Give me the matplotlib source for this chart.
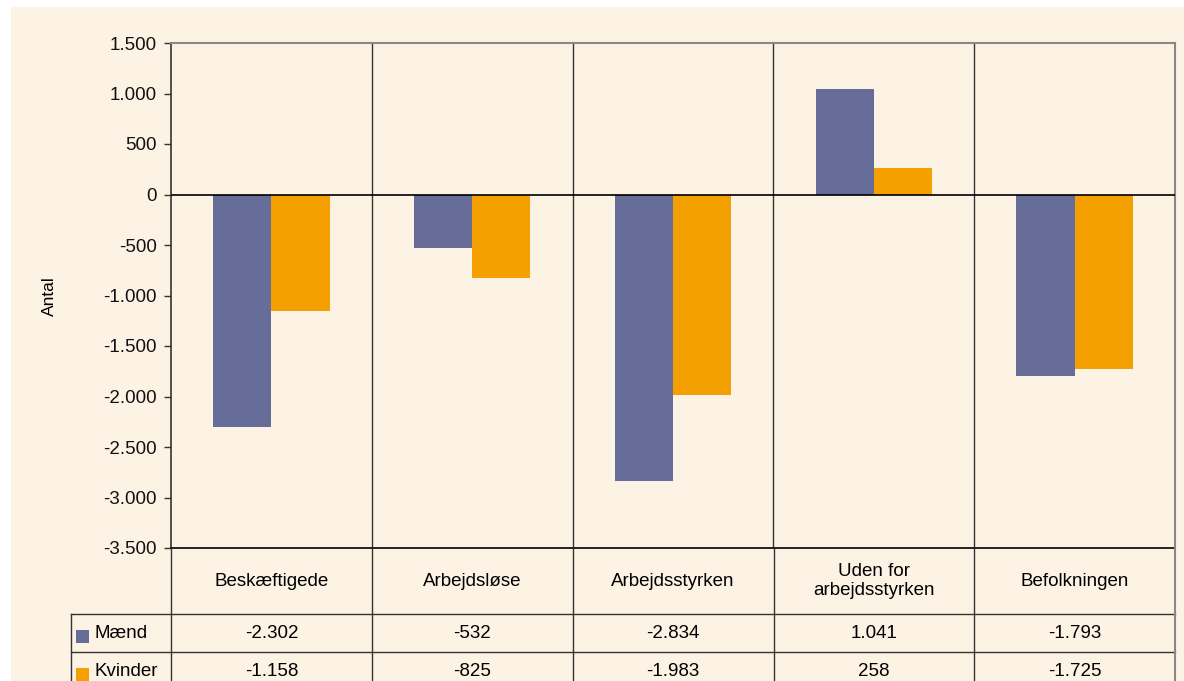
"""
Ændring i beskæftigede, ledige m.m. fordelt på køn – søjlediagram med datatabel
"""
import matplotlib
matplotlib.use("Agg")
import matplotlib.pyplot as plt
from matplotlib.patches import Rectangle

plt.rcParams["font.family"] = ["Liberation Sans", "DejaVu Sans"]

categories = ["Beskæftigede", "Arbejdsløse", "Arbejdsstyrken",
              "Uden for\narbejdsstyrken", "Befolkningen"]
series = ["Mænd", "Kvinder"]
maend = [-2302, -532, -2834, 1041, -1793]
kvinder = [-1158, -825, -1983, 258, -1725]
yticks = list(range(-3500, 1501, 500))

C_M = "#666d99"
C_K = "#f4a000"
BG = "#fdf3e5"
W, H = 1184, 681
FS = 13.5


def dk(v):
    return f"{v:,}".replace(",", ".")


def fx(px):  # pixel -> figure fraction (x)
    return px / W


def fy(py):  # pixel (from top) -> figure fraction (y)
    return 1 - py / H


fig = plt.figure(figsize=(W / 100, H / 100), dpi=100)
fig.patch.set_facecolor("white")
fig.add_artist(Rectangle((fx(11), 0), 1, fy(7), transform=fig.transFigure,
                         facecolor=BG, edgecolor="none", zorder=0))

L, R, T, B = 171, 1175, 43, 548
ax = fig.add_axes([fx(L), fy(B), fx(R - L), fy(T) - fy(B)])
ax.set_facecolor(BG)

n = len(categories)
x = list(range(n))
bw = 0.29
ax.bar([i - bw / 2 for i in x], maend, width=bw, color=C_M, zorder=2)
ax.bar([i + bw / 2 for i in x], kvinder, width=bw, color=C_K, zorder=2)

ax.set_xlim(-0.5, n - 0.5)
ax.set_ylim(yticks[0], yticks[-1])
ax.set_yticks(yticks)
ax.set_yticklabels([dk(t) for t in yticks], fontsize=FS, color="#111111")
ax.tick_params(axis="y", direction="out", length=5, width=1, color="#333333", pad=5)
ax.set_xticks([])
for i in range(1, n):
    ax.axvline(i - 0.5, color="#333333", lw=1, zorder=1)
ax.axhline(0, color="black", lw=1.2, zorder=3)

for s in ["top", "right"]:
    ax.spines[s].set_color("#888888")
    ax.spines[s].set_linewidth(1.5)
ax.spines["left"].set_color("#333333")
ax.spines["bottom"].set_color("black")
ax.spines["left"].set_linewidth(1.2)
ax.spines["bottom"].set_linewidth(1.2)

fig.text(fx(49), fy(296), "Antal", rotation=90, ha="center", va="center",
         fontsize=12.5)

# datatabel under diagrammet
TL = 71
tax = fig.add_axes([fx(TL), 0, fx(R - TL), fy(B)])
tax.set_xlim(-1.0, n - 0.5)
tax.set_ylim(H - B, 0)
tax.axis("off")

r1, r2, r3 = 614 - B, 652 - B, 690 - B
ec = "#333333"
for yy in (r1, r2):
    tax.plot([-1.0, n - 0.5], [yy, yy], color=ec, lw=1, clip_on=False)
tax.plot([-1.0, -1.0], [r1, r3], color=ec, lw=1, clip_on=False)
for i in range(n + 1):
    col = "#888888" if i == n else ec
    tax.plot([i - 0.5, i - 0.5], [0, r3], color=col,
             lw=1.5 if i == n else 1, clip_on=False)

for i, c in enumerate(categories):
    tax.text(i, r1 / 2, c, ha="center", va="center", fontsize=FS,
             linespacing=1.1)

cat_px = (R - L) / n
for (lab, vals, col, y0, y1) in [(series[0], maend, C_M, r1, r2),
                                 (series[1], kvinder, C_K, r2, r3)]:
    yc = (y0 + y1) / 2
    tax.add_patch(Rectangle((-1.0 + 5 / cat_px, yc - 3), 13 / cat_px, 13,
                            facecolor=col, edgecolor="none"))
    tax.text(-1.0 + 24 / cat_px, yc, lab, ha="left", va="center", fontsize=FS)
    for i, v in enumerate(vals):
        tax.text(i, yc, dk(v), ha="center", va="center", fontsize=FS)

fig.savefig("out.png", dpi=100, facecolor=fig.get_facecolor())
